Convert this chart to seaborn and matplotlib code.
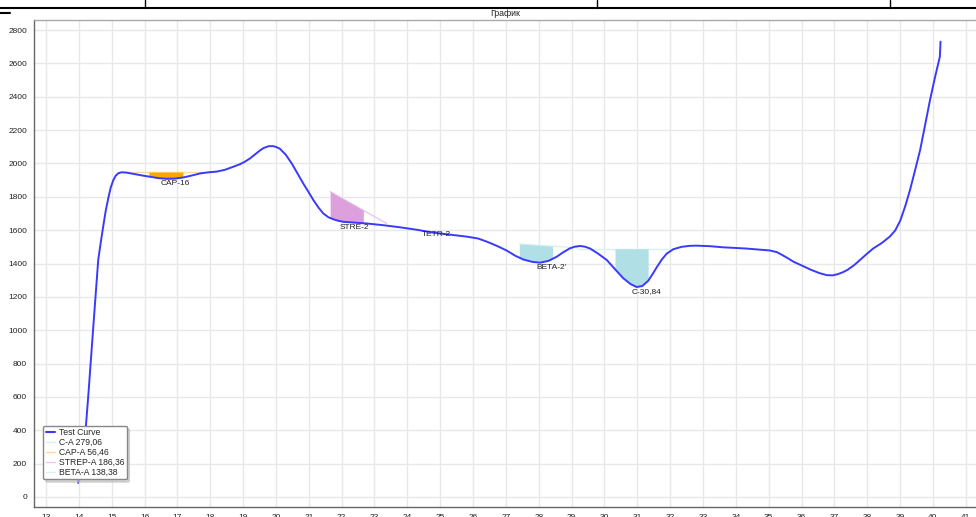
import matplotlib
matplotlib.use("Agg")
import matplotlib.pyplot as plt
from matplotlib.lines import Line2D
from matplotlib.ticker import MultipleLocator
import numpy as np
import pandas as pd
import seaborn as sns

# curve
curve_x = [13.98, 14.10, 14.19, 14.30, 14.44, 14.59, 14.67, 14.74, 14.82, 14.90, 14.97, 15.05,
           15.12, 15.20, 15.30, 15.45, 15.70, 15.95, 16.17, 16.42, 16.67, 16.92, 17.18, 17.45,
           17.69, 17.95, 18.20, 18.45, 18.70, 18.90, 19.05, 19.21, 19.35, 19.50, 19.62, 19.77,
           19.90, 20.00, 20.12, 20.30, 20.48, 20.65, 20.83, 21.00, 21.14, 21.30, 21.44, 21.60,
           21.75, 21.90, 22.05, 22.40, 22.76, 23.25, 23.78, 24.30, 24.79, 25.30, 25.81, 26.15,
           26.42, 26.65, 26.82, 27.02, 27.28, 27.53, 27.80, 28.04, 28.30, 28.55, 28.75, 28.95,
           29.10, 29.26, 29.40, 29.56, 29.80, 30.07, 30.32, 30.57, 30.80, 30.98, 31.15, 31.33,
           31.47, 31.60, 31.75, 31.90, 32.10, 32.35, 32.60, 32.80, 33.20, 33.62, 34.30, 35.04,
           35.25, 35.40, 35.58, 35.75, 36.05, 36.30, 36.55, 36.77, 36.95, 37.10, 37.25, 37.40,
           37.60, 37.80, 38.00, 38.18, 38.45, 38.69, 38.85, 39.00, 39.15, 39.30, 39.45, 39.61,
           39.76, 39.91, 40.06, 40.21, 40.23]
curve_y = [84, 240, 362, 640, 1021, 1421, 1530, 1620, 1718, 1795, 1855, 1900,
           1926, 1941, 1947, 1945, 1936, 1927, 1920, 1912, 1908, 1909, 1916, 1928,
           1940, 1947, 1951, 1962, 1980, 1995, 2010, 2030, 2052, 2076, 2092, 2103,
           2104, 2099, 2088, 2052, 2000, 1942, 1880, 1826, 1780, 1734, 1700, 1677,
           1665, 1656, 1650, 1645, 1640, 1630, 1617, 1602, 1585, 1573, 1561, 1550,
           1531, 1512, 1497, 1478, 1447, 1424, 1410, 1405, 1416, 1441, 1468, 1491,
           1501, 1505, 1501, 1490, 1460, 1421, 1366, 1312, 1276, 1259, 1265, 1296,
           1338, 1380, 1425, 1460, 1486, 1500, 1506, 1507, 1504, 1497, 1490, 1478,
           1468, 1452, 1432, 1411, 1384, 1361, 1342, 1330, 1329, 1336, 1347, 1362,
           1390, 1425, 1460, 1490, 1524, 1562, 1598, 1655, 1740, 1840, 1955, 2081,
           2230, 2380, 2515, 2640, 2730]

# peak baselines (start x, end x, start y, end y) and filled part
peak_names = ["C-A 279,06", "CAP-A 56,46", "STREP-A 186,36", "BETA-A 138,38"]
base_x0 = [29.20, 15.30, 21.65, 27.41]
base_x1 = [32.05, 18.10, 23.37, 29.20]
base_y0 = [1488, 1948, 1831, 1517]
base_y1 = [1488, 1948, 1640, 1494]
fill_x0 = [30.32, 16.13, 21.65, 27.41]
fill_x1 = [31.33, 17.17, 22.66, 28.42]
fill_colors = ["#b0e0e6", "#ffa500", "#dda0dd", "#b0e0e6"]
line_colors = ["#d6f2f5", "#ffd9a0", "#ecc6ec", "#d6f2f5"]

label_text = ["CAP-16", "STRE-2", "TETR-2", "BETA-2'", "C-30,84"]
label_x = [16.93, 22.40, 24.89, 28.39, 31.28]
label_y = [1882, 1617, 1571, 1377, 1231]

sns.set_theme(style="whitegrid")
plt.rcParams["font.family"] = ["Liberation Sans", "DejaVu Sans"]

fig = plt.figure(figsize=(9.76, 5.17), dpi=100)
ax = fig.add_axes([34 / 976, 10 / 517, 942 / 976, 487 / 517])
ax.set_facecolor("white")

df = pd.DataFrame({"x": curve_x, "y": curve_y})
cx = np.array(curve_x)
cy = np.array(curve_y)

for i in range(len(peak_names)):
    bx = [base_x0[i], base_x1[i]]
    by = [base_y0[i], base_y1[i]]
    ax.plot(bx, by, color=line_colors[i], lw=1, zorder=2)
    m = (cx > fill_x0[i]) & (cx < fill_x1[i])
    fx = np.concatenate([[fill_x0[i]], cx[m], [fill_x1[i]]])
    fy = np.interp(fx, cx, cy)
    fb = np.interp(fx, bx, by)
    ax.fill_between(fx, fb, fy, color=fill_colors[i], lw=0, zorder=2)

sns.lineplot(data=df, x="x", y="y", sort=False, color="#3a3aff", lw=1.4, ax=ax,
             solid_joinstyle="round", zorder=3)

handles = [Line2D([0], [0], color="#3a3aff", lw=1.5)]
handles += [Line2D([0], [0], color=c, lw=1) for c in line_colors]
ax.legend(handles, ["Test Curve"] + peak_names, loc="lower left",
          bbox_to_anchor=(0.005, 0.048), fontsize=6.2, frameon=True, fancybox=True,
          shadow={"color": "#bbbbbb", "alpha": 0.6, "ox": 2, "oy": -2},
          edgecolor="#888888", framealpha=1, handlelength=1.1,
          handletextpad=0.4, labelspacing=0.1, borderpad=0.3)

for t, x, y in zip(label_text, label_x, label_y):
    ax.text(x, y, t, fontsize=6, ha="center", va="center", color="#222222", zorder=4)

ax.set_xlim(12.635, 41.31)
ax.set_ylim(-60, 2860)
ax.xaxis.set_major_locator(MultipleLocator(1))
ax.xaxis.set_minor_locator(MultipleLocator(0.1))
ax.yaxis.set_major_locator(MultipleLocator(200))
ax.yaxis.set_minor_locator(MultipleLocator(20))
ax.grid(True, which="major", color="#e8e8e8", lw=1)
ax.grid(False, which="minor")
ax.tick_params(axis="both", which="major", direction="out", length=4, width=0.8,
               color="#555555", labelsize=6, labelcolor="#222222", pad=1)
ax.tick_params(axis="both", which="minor", direction="out", length=2, width=0.5,
               color="#777777")
ax.set_xlabel("")
ax.set_ylabel("")
ax.set_title("График", fontsize=6.3, pad=3, color="#222222")
for s in ["left", "bottom"]:
    ax.spines[s].set_color("#666666")
    ax.spines[s].set_linewidth(1)
ax.spines["top"].set_color("#aaaaaa")
ax.spines["top"].set_linewidth(1)
ax.spines["right"].set_visible(False)

# table border left over above the chart
fig.add_artist(Line2D([0, 1], [1 - 8 / 517] * 2, color="black", lw=1.5))
for px in [145, 597, 890]:
    fig.add_artist(Line2D([px / 976] * 2, [1, 1 - 8 / 517], color="black", lw=1))
fig.add_artist(Line2D([0, 10 / 976], [1 - 13 / 517] * 2, color="black", lw=1.5))

fig.savefig("out.png", dpi=100)
